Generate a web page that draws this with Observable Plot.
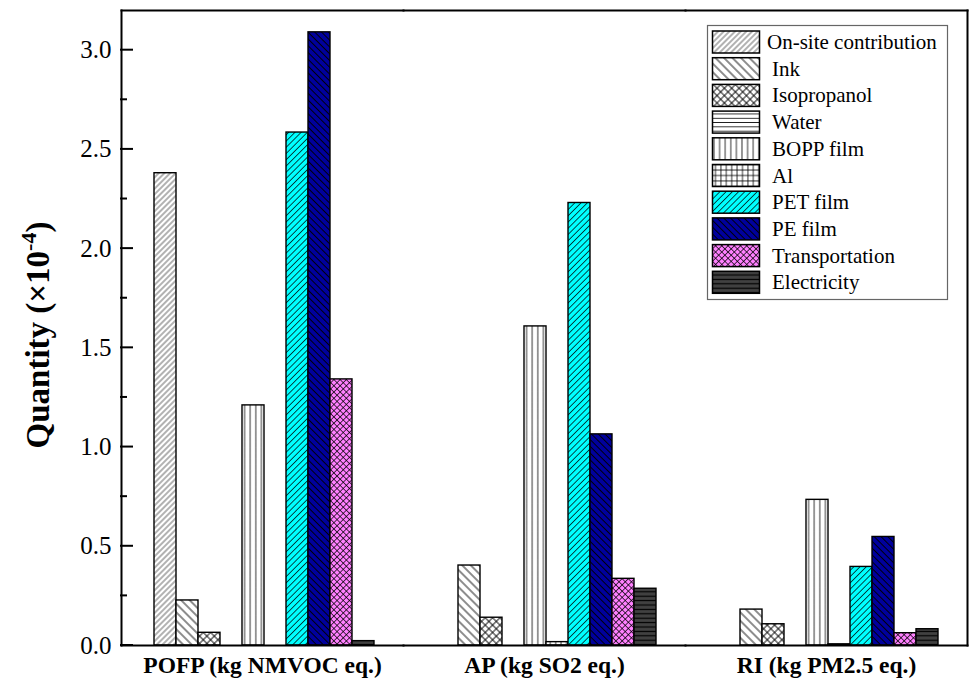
<!DOCTYPE html>
<html><head><meta charset="utf-8">
<script src="https://cdn.jsdelivr.net/npm/d3@7"></script>
<script src="https://cdn.jsdelivr.net/npm/@observablehq/plot@0.6"></script>
<style>
body{margin:0;background:#fff}
#chart{position:relative;width:973px;height:680px}
</style>
</head><body><div id="chart"></div>
<script>
// ---- data ----
const groups = ["POFP (kg NMVOC eq.)", "AP (kg SO2 eq.)", "RI (kg PM2.5 eq.)"];
const series = ["On-site contribution","Ink","Isopropanol","Water","BOPP film","Al","PET film","PE film","Transportation","Electricity"];
const onsite      = [2.38, 0, 0];
const ink         = [0.227, 0.403, 0.181];
const isopropanol = [0.064, 0.14, 0.107];
const water       = [0, 0, 0];
const bopp        = [1.21, 1.608, 0.734];
const al          = [0, 0.017, 0.006];
const pet         = [2.585, 2.23, 0.396];
const pe          = [3.09, 1.064, 0.547];
const transport   = [1.341, 0.336, 0.062];
const electricity = [0.022, 0.286, 0.082];
const yTicks = [0, 0.5, 1.0, 1.5, 2.0, 2.5, 3.0];
const yMinorTicks = [0.25, 0.75, 1.25, 1.75, 2.25, 2.75];
const yLabel = "Quantity (×10";
const yLabelSup = "-4";

const valuesBySeries = [onsite, ink, isopropanol, water, bopp, al, pet, pe, transport, electricity];
const patternIds = series.map((s, i) => `pat${i}`);
const rows = [];
series.forEach((s, i) => groups.forEach((g, j) => {
  const v = valuesBySeries[i][j];
  if (v > 0) rows.push({group: g, series: s, value: v, fill: `url(#${patternIds[i]})`});
}));

const serif = "'Liberation Serif','Times New Roman',Times,serif";
const ML = 120, MT = 10, MB = 35, H = 680;
const yMax = 3.2;

const svg = Plot.plot({
  width: 973, height: H,
  marginLeft: ML, marginRight: 6, marginTop: MT, marginBottom: MB,
  style: {fontFamily: serif, background: "#fff", color: "#000"},
  fx: {domain: groups, padding: 0, label: null},
  x: {domain: series, paddingInner: 0, paddingOuter: 1.22, align: 0.53, axis: null},
  y: {domain: [0, yMax]},
  color: {type: "identity"},
  marks: [
    Plot.barY(rows, {fx: "group", x: "series", y: "value", fill: "fill", stroke: "#000", strokeWidth: 1.4}),
    Plot.frame({anchor: "top", strokeWidth: 2}),
    Plot.frame({anchor: "bottom", strokeWidth: 2}),
    Plot.frame({anchor: "left", facetAnchor: "left", strokeWidth: 2}),
    Plot.frame({anchor: "right", facetAnchor: "right", strokeWidth: 2}),
    Plot.axisY(yTicks, {tickSize: 0, tickPadding: 10, tickFormat: d3.format(".1f"), fontSize: 25, label: null}),
    Plot.axisFx({anchor: "bottom", tickSize: 0, tickPadding: 11, fontSize: 23.5, fontWeight: "bold", label: null})
  ]
});
document.getElementById("chart").appendChild(svg);

const root = d3.select(svg);
let ys;
try { const s = svg.scale("y"); ys = v => s.apply(v); if (!isFinite(ys(1))) throw 0; }
catch (e) { const lin = d3.scaleLinear([0, yMax], [H - MB, MT]); ys = v => lin(v); }

// ---- inward y ticks ----
const tk = root.append("g");
function tick(v, len) {
  const y = ys(v);
  tk.append("path").attr("d", `M${ML},${y}H${ML + len}`)
    .attr("stroke", "#000").attr("stroke-width", 2).attr("fill", "none");
}
yTicks.forEach(v => tick(v, 13));
yMinorTicks.forEach(v => tick(v, 7));

// ---- patterns ----
const defs = root.insert("defs", ":first-child");
function pattern(id, {bg = "#fff", size = 5, rotate = 0, v = false, h = false, stroke = "#000", sw = 0.9}) {
  const p = defs.append("pattern").attr("id", id).attr("patternUnits", "userSpaceOnUse")
    .attr("width", size).attr("height", size);
  if (rotate) p.attr("patternTransform", `rotate(${rotate})`);
  p.append("rect").attr("width", size).attr("height", size).attr("fill", bg);
  if (v) p.append("line").attr("x1", size / 2).attr("x2", size / 2).attr("y1", 0).attr("y2", size).attr("stroke", stroke).attr("stroke-width", sw);
  if (h) p.append("line").attr("y1", size / 2).attr("y2", size / 2).attr("x1", 0).attr("x2", size).attr("stroke", stroke).attr("stroke-width", sw);
}
pattern("pat0", {size: 4, rotate: 45, v: true, sw: 0.7, stroke: "#222"});
pattern("pat1", {size: 6, rotate: -45, v: true, sw: 0.9});
pattern("pat2", {size: 5.2, rotate: 45, v: true, h: true, sw: 0.9});
pattern("pat3", {size: 4.3, h: true, sw: 0.8});
pattern("pat4", {size: 5.6, v: true, sw: 0.8});
pattern("pat5", {size: 5.4, v: true, h: true, sw: 0.8});
pattern("pat6", {bg: "#00ffff", size: 4.4, rotate: 45, v: true, sw: 0.7});
pattern("pat7", {bg: "#00009c", size: 4.8, rotate: -45, v: true, sw: 0.9});
pattern("pat8", {bg: "#ff80ff", size: 4.4, rotate: 45, v: true, h: true, sw: 0.7});
pattern("pat9", {bg: "#414141", size: 4.4, h: true, sw: 1.2});

// ---- y label ----
const yl = root.append("text")
  .attr("transform", "translate(49,335) rotate(-90)")
  .attr("text-anchor", "middle")
  .attr("font-family", serif).attr("font-weight", "bold").attr("font-size", 33).attr("fill", "#000");
yl.append("tspan").text(yLabel);
yl.append("tspan").attr("dy", -13).attr("font-size", 22).text(yLabelSup);
yl.append("tspan").attr("dy", 13).text(")");

// ---- legend ----
const lg = root.append("g");
lg.append("rect").attr("x", 707.5).attr("y", 25.5).attr("width", 240).attr("height", 274)
  .attr("fill", "#fff").attr("stroke", "#666").attr("stroke-width", 1.2);
series.forEach((s, i) => {
  const y0 = 31 + i * 26.7;
  lg.append("rect").attr("x", 712.5).attr("y", y0).attr("width", 47).attr("height", 22)
    .attr("fill", `url(#${patternIds[i]})`).attr("stroke", "#000").attr("stroke-width", 1.5);
  lg.append("text").attr("x", i === 0 ? 767 : 772).attr("y", y0 + 18).attr("text-anchor", "start")
    .attr("font-family", serif).attr("font-size", 21).attr("fill", "#000").text(s);
});
</script>
</body></html>
